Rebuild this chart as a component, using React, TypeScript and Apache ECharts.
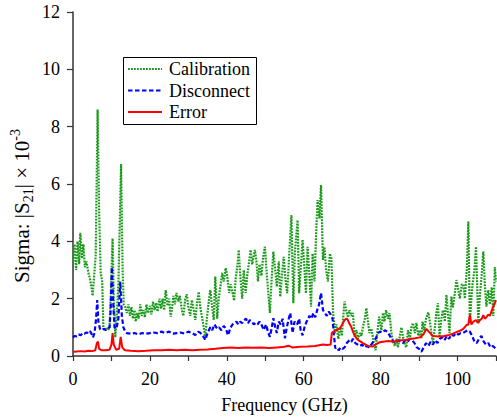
import React, { useEffect, useRef } from "react";
import * as echarts from "echarts";

const xTicks = [0, 20, 40, 60, 80, 100];
const yTicks = [0, 2, 4, 6, 8, 10, 12];
const seriesNames = ["Calibration", "Disconnect", "Error"];
const xTitle = "Frequency (GHz)";

const calX = [0,0.4,0.8,1.2,1.6,1.9,2.3,2.7,3.1,3.5,4.0,4.4,4.8,5.1,5.5,5.9,6.4,6.8,7.2,7.6,7.9,8.3,8.7,9.1,9.5,9.9,10.3,10.6,11.0,11.4,11.8,12.5,12.9,13.2,13.6,14.0,14.4,14.8,15.2,15.6,16.0,16.3,16.7,17.1,17.5,17.9,18.3,18.7,19.1,19.5,20.0,20.4,20.8,21.2,21.6,22.0,22.5,22.9,23.3,23.7,24.1,24.6,25.0,25.4,25.8,26.1,26.5,26.9,27.4,27.8,28.3,28.7,29.2,29.6,30.0,30.5,30.9,31.4,31.8,32.3,32.7,33.1,33.6,34.0,34.4,34.8,35.3,35.7,36.1,36.6,37.0,37.5,37.9,38.4,38.8,39.2,39.7,40.1,40.6,41.0,41.5,41.9,42.3,42.8,43.1,43.6,44.0,44.4,44.9,45.3,45.8,46.2,46.6,47.3,47.7,48.1,48.5,49.0,49.4,49.9,50.3,50.8,51.2,51.7,52.1,52.6,53.0,53.5,53.9,54.4,54.8,55.3,55.7,56.2,56.8,57.3,57.7,58.0,58.4,58.8,59.3,59.7,60.2,60.6,61.0,61.5,61.9,62.3,62.8,63.2,63.6,64.1,64.5,65.0,65.4,65.8,66.3,66.8,67.2,67.6,68.1,68.5,69.0,69.5,69.9,70.3,70.6,71.0,71.5,71.9,72.4,72.8,73.2,73.7,74.1,74.6,75.0,75.4,75.9,76.3,76.7,77.1,77.6,78.2,78.7,79.2,79.6,80.2,80.6,81.0,81.4,81.9,82.3,82.8,83.2,83.7,84.1,84.5,85.0,85.4,85.9,86.3,86.7,87.1,87.6,88.0,88.4,88.9,89.3,89.8,90.2,90.6,90.9,91.3,91.8,92.4,92.8,93.2,93.6,94.1,94.5,94.9,95.3,95.8,96.2,96.7,97.1,97.5,97.9,98.4,98.8,99.3,99.7,100.2,100.6,101.1,101.5,101.9,102.4,102.8,103.2,103.6,103.9,104.4,104.8,105.1,105.4,105.8,106.2,106.7,107.1,107.5,108.0,108.4,108.9,109.3,109.7,110];
const calY = [3.3,3.9,3.0,4.0,3.2,4.3,3.4,3.9,3.1,3.3,2.9,2.7,2.4,2.1,2.8,3.5,8.6,5.0,2.9,2.6,1.0,0.9,1.0,0.9,1.0,2.4,4.1,2.0,0.65,1.5,2.5,6.7,3.0,1.8,1.7,1.5,1.8,1.4,1.7,1.3,1.6,1.2,1.5,1.3,1.8,1.4,1.6,1.35,1.8,1.5,1.75,1.45,1.9,1.6,1.85,1.55,2.0,1.65,2.0,1.6,2.3,1.75,2.0,1.37,1.7,2.1,1.8,2.2,1.9,2.1,1.6,1.4,2.0,2.15,1.7,1.4,1.95,1.6,1.26,1.9,2.24,1.7,1.3,1.0,0.62,1.3,1.9,2.3,1.8,1.26,2.77,1.3,2.0,2.5,2.9,2.6,3.07,2.8,2.2,2.5,2.2,1.93,2.7,3.2,3.7,2.6,2.0,3.0,2.2,2.8,3.3,3.7,3.2,3.7,3.3,2.6,3.2,2.8,3.4,3.81,3.0,2.19,1.5,2.8,3.64,3.0,2.42,3.3,2.07,2.9,3.46,2.6,2.19,3.46,4.92,1.84,3.57,4.1,4.74,2.19,3.2,4.05,3.0,2.19,3.81,2.8,1.72,3.57,2.6,4.2,5.44,4.8,5.96,3.35,3.8,3.0,2.6,3.57,3.4,1.6,0.8,1.1,0.6,1.0,0.7,1.4,1.9,1.6,1.35,1.6,1.4,1.5,0.67,0.9,0.6,0.8,0.7,1.02,1.3,1.67,1.2,0.8,0.95,0.5,0.2,0.9,1.37,0.9,1.5,1.2,1.6,1.3,1.5,0.8,0.5,0.35,0.6,0.3,0.7,1.0,0.6,0.4,0.3,0.9,0.6,1.0,1.15,0.8,1.15,0.7,0.9,0.6,1.2,0.9,1.3,1.52,1.2,0.8,0.45,1.0,1.5,1.84,0.7,1.3,1.6,1.2,2.13,1.5,0.8,2.07,1.7,2.2,2.65,2.3,2.0,2.5,2.5,2.0,3.0,4.69,1.15,2.0,2.5,3.0,3.81,2.5,1.15,2.1,2.7,3.64,2.5,1.72,2.3,1.8,2.4,1.4,3.1,2.6];

const disX = [0,0.5,1.0,1.5,2.0,2.5,3.0,3.5,4.0,4.4,4.8,5.2,5.6,6.0,6.3,6.6,7.0,7.5,8.0,8.5,9.0,9.5,9.8,10.1,10.4,10.8,11.3,11.8,12.3,12.7,13.1,13.6,14,15,16,17,18,19,20,21,22,23,24,25,26,27,28,29,30,31,31.8,32.5,33.2,33.8,34.4,35,35.7,36.2,36.8,37.5,38.0,38.6,39.2,39.8,40.3,41,41.5,42,42.5,43,43.5,44,44.5,45,45.5,46,46.5,47,47.5,48,48.5,49,49.6,50.2,50.8,51.2,51.7,52.1,52.6,53,53.5,54,54.5,55.1,55.6,56.1,56.5,57.1,57.6,58.3,58.8,59.2,59.7,60.2,60.6,61.1,61.5,62.0,62.5,63.0,63.5,64.0,64.5,65.0,65.5,66.0,66.5,67.0,67.5,67.8,68.2,68.6,69.1,69.6,70.1,70.6,71.2,71.9,72.4,72.8,73.4,74,74.6,75.2,75.8,76.4,77.0,77.6,78.1,78.7,79.3,79.9,80.5,81.1,81.7,82.2,82.8,83.4,84.0,84.6,85.2,85.8,86.4,87.0,87.6,88.2,88.8,89.4,90.0,90.6,91.2,91.8,92.4,93.0,93.6,94.2,94.8,95.4,96.0,96.6,97.2,97.8,98.4,99.0,99.6,100.2,100.8,101.4,102.0,102.6,103.2,103.8,104.4,105.0,105.6,106.2,106.8,107.4,108.0,108.6,109.2,110];
const disY = [0.65,0.7,0.68,0.75,0.72,0.8,0.78,0.82,0.8,0.87,0.78,0.65,0.8,1.3,1.95,1.2,0.95,0.9,0.95,0.9,0.95,1.0,1.6,3.1,2.0,1.0,0.95,1.3,2.6,1.4,1.0,0.85,0.8,0.78,0.8,0.75,0.8,0.78,0.8,0.82,0.8,0.85,0.8,0.85,0.78,0.8,0.82,0.78,0.85,0.8,0.73,0.85,0.8,0.7,0.56,0.8,1.0,0.9,1.1,0.95,1.0,0.9,1.05,0.95,0.72,1.0,1.1,1.15,1.2,1.1,1.2,1.15,1.25,1.3,1.15,1.25,1.2,1.1,1.15,1.1,1.2,1.1,0.91,1.1,0.8,0.67,1.0,1.32,1.0,0.8,1.2,1.1,1.3,0.62,1.0,1.3,1.5,0.8,1.2,1.1,1.3,0.9,0.72,1.0,1.15,1.3,1.4,1.3,1.5,1.35,1.6,1.8,2.2,1.6,1.5,1.4,1.55,1.45,1.3,0.8,0.27,0.3,0.2,0.3,0.25,0.3,0.45,0.55,0.5,0.6,0.45,0.4,0.35,0.4,0.3,0.35,0.3,0.4,0.5,0.6,0.8,0.85,0.82,0.9,0.85,0.75,0.6,0.5,0.45,0.55,0.5,0.45,0.55,0.5,0.6,0.55,0.45,0.3,0.25,0.15,0.3,0.45,0.35,0.5,0.4,0.55,0.45,0.6,0.65,0.55,0.7,0.6,0.75,0.7,0.8,0.75,0.8,0.8,0.85,0.9,0.85,0.7,0.5,0.45,0.6,0.7,0.5,0.4,0.45,0.3,0.35,0.25];

const errX = [0,1,2,3,4,5,5.8,6.2,6.5,6.8,7.5,8.5,9.5,10.0,10.3,10.6,11.2,12.0,12.4,12.8,13.5,15,17,19,21,23,25,27,29,31,33,35,37,39,41,43,45,47,49,51,53,55,56,57,59,61,63,65,66,67,67.3,67.8,68.5,69.4,70,70.6,71.0,71.4,71.8,72.4,72.8,73.2,73.7,74.1,75.4,76.7,78,78.9,79.8,80.6,82,83.5,85,86.7,88,89,90.2,91.1,91.9,92.5,93.6,95,96.5,97.5,98.8,100,100.6,101.5,102.3,102.8,103.2,103.6,104.1,104.8,105.3,105.8,106.3,106.7,107.1,107.5,108.0,108.4,108.8,109.2,109.7,110];
const errY = [0.15,0.16,0.17,0.16,0.18,0.17,0.2,0.45,0.5,0.25,0.2,0.2,0.22,0.4,0.8,0.4,0.22,0.25,0.67,0.3,0.2,0.18,0.17,0.18,0.2,0.2,0.22,0.2,0.22,0.2,0.22,0.23,0.25,0.28,0.3,0.28,0.3,0.29,0.3,0.28,0.3,0.32,0.36,0.3,0.32,0.33,0.35,0.4,0.38,0.4,0.8,0.85,0.9,0.97,1.1,1.25,1.3,1.28,1.15,1.0,0.85,0.73,0.62,0.56,0.45,0.35,0.33,0.42,0.48,0.5,0.52,0.5,0.55,0.56,0.6,0.62,0.65,0.75,0.95,0.85,0.7,0.68,0.7,0.72,0.78,0.85,0.88,0.95,1.08,1.1,1.43,1.1,1.2,1.25,1.15,1.25,1.3,1.43,1.3,1.35,1.45,1.4,1.55,1.7,1.84,1.95];

const FONT = "Liberation Serif";
const GREEN = "#1a9a1a";
const BLUE = "#0000ff";
const RED = "#ff0000";
const COLORS = [GREEN, BLUE, RED];
const DASHES: any[] = [[1.8, 1.2], [4.5, 2.5], null];

const pairs = (xs: number[], ys: number[]) => xs.map((x, i) => [x, ys[i]]);

const txt = (text: string, x: number, y: number, align: string, va: string, size = 18) => ({
  type: "text",
  x,
  y,
  style: { text, font: `${size}px 'Liberation Serif'`, fill: "#000", align, verticalAlign: va },
});

export default function App() {
  const ref = useRef<HTMLDivElement>(null);
  useEffect(() => {
    if (!ref.current) return;
    const chart = echarts.init(ref.current, null, { renderer: "svg" });

    const option: any = {
      animation: false,
      backgroundColor: "#fff",
      grid: { left: 73, right: 1, top: 12, bottom: 64, containLabel: false },
      legend: { show: false, data: seriesNames },
      xAxis: {
        type: "value",
        min: 0,
        max: 110,
        interval: 10,
        axisLine: { show: true, lineStyle: { color: "#333", width: 1.5 } },
        axisTick: { show: true, length: 5, lineStyle: { color: "#333", width: 1.2 } },
        axisLabel: { show: false },
        splitLine: { show: false },
      },
      yAxis: {
        type: "value",
        min: 0,
        max: 12,
        interval: 2,
        axisLine: { show: true, lineStyle: { color: "#333", width: 1.5 } },
        axisTick: { show: true, length: 6, lineStyle: { color: "#333", width: 1.2 } },
        axisLabel: { show: false },
        splitLine: { show: false },
      },
      series: seriesNames.map((name, i) => ({
        name,
        type: "line",
        data: i === 0 ? pairs(calX, calY) : i === 1 ? pairs(disX, disY) : pairs(errX, errY),
        showSymbol: false,
        symbol: "none",
        lineStyle: { color: COLORS[i], width: i === 2 ? 2 : 2.2, type: DASHES[i] || "solid" },
        itemStyle: { color: COLORS[i] },
      })),
    };
    chart.setOption(option);

    const c0 = chart.convertToPixel({ gridIndex: 0 }, [0, 0]) as number[];
    const c1 = chart.convertToPixel({ gridIndex: 0 }, [110, 12]) as number[];

    const g: any[] = [];
    // y axis title
    g.push({
      type: "text",
      x: 22,
      y: (c0[1] + c1[1]) / 2 + 22,
      rotation: Math.PI / 2,
      style: {
        text: "{a|Sigma: |S}{sub|21}{a|| × 10}{sup|-3}",
        align: "center",
        verticalAlign: "middle",
        fill: "#000",
        rich: {
          a: { fontFamily: FONT, fontSize: 21, lineHeight: 27, verticalAlign: "middle", fill: "#000" },
          sub: { fontFamily: FONT, fontSize: 14, lineHeight: 14, verticalAlign: "bottom", fill: "#000" },
          sup: { fontFamily: FONT, fontSize: 14, lineHeight: 14, verticalAlign: "top", fill: "#000" },
        },
      },
    });
    // tick labels placed through the axis scales
    xTicks.forEach((v) => {
      const p = chart.convertToPixel({ gridIndex: 0 }, [v, 0]) as number[];
      g.push(txt(String(v), p[0], p[1] + 14, "center", "top"));
    });
    yTicks.forEach((v) => {
      const p = chart.convertToPixel({ gridIndex: 0 }, [0, v]) as number[];
      g.push(txt(String(v), p[0] - 13, p[1], "right", "middle"));
    });
    g.push(txt(xTitle, (c0[0] + c1[0]) / 2, c0[1] + 49, "center", "middle"));

    // legend box
    g.push({
      type: "rect",
      shape: { x: 123.5, y: 57.5, width: 133, height: 67 },
      style: { fill: "#fff", stroke: "#000", lineWidth: 1 },
    });
    seriesNames.forEach((name, i) => {
      const cy = 69 + i * 21.5;
      g.push({
        type: "line",
        shape: { x1: 128, y1: cy, x2: 162, y2: cy },
        style: { stroke: COLORS[i], lineWidth: 2.2, lineDash: DASHES[i] || undefined },
      });
      g.push(txt(name, 169, cy, "left", "middle"));
    });

    chart.setOption({ graphic: g });
    return () => chart.dispose();
  }, []);
  return (
    <div
      ref={ref}
      style={{ position: "fixed", left: 0, top: 0, width: 497, height: 420, background: "#fff" }}
    />
  );
}
